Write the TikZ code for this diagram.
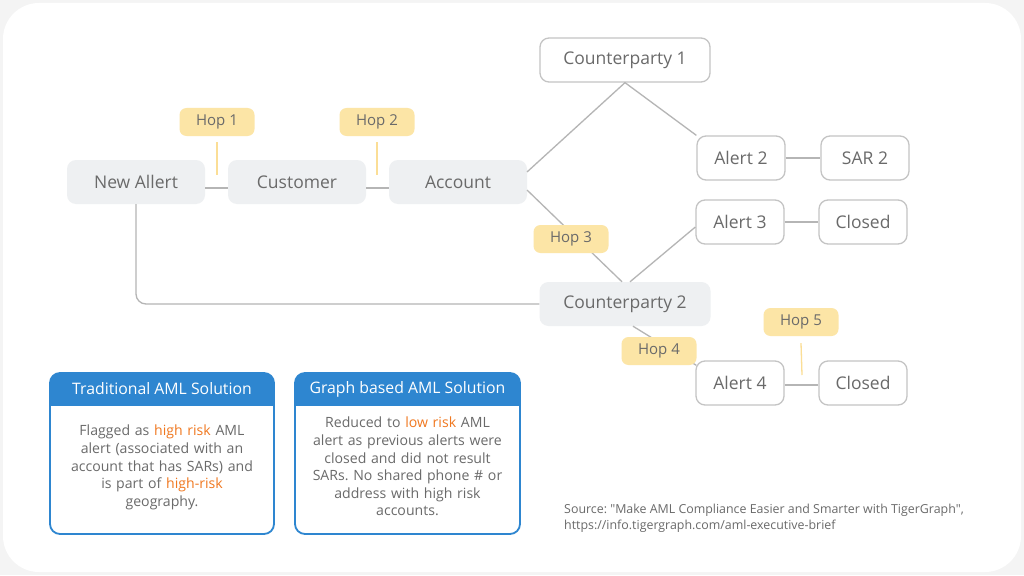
\documentclass[tikz,border=0pt]{standalone}
\usepackage{fontspec}
\setmainfont{Open Sans}
\newfontfamily\srcfont{Open Sans}[Ligatures=TeXOff]
\frenchspacing
\definecolor{bgout}{HTML}{F4F4F4}
\definecolor{nodegray}{HTML}{EEF0F2}
\definecolor{bordergray}{HTML}{C4C4C4}
\definecolor{txtgray}{HTML}{6A6A6A}
\definecolor{hopfill}{HTML}{FCE5A6}
\definecolor{hopline}{HTML}{FBDE96}
\definecolor{linegray}{HTML}{B5B5B5}
\definecolor{amlblue}{HTML}{2E86D0}
\definecolor{riskorange}{HTML}{F07820}
\tikzset{
  graynode/.style={rounded corners=9pt, fill=nodegray, text=txtgray, minimum width=138pt, minimum height=44pt, inner sep=0pt, font=\fontsize{17.5}{19}\selectfont},
  whitenode/.style={rounded corners=9pt, fill=white, draw=bordergray, line width=1.3pt, text=txtgray, minimum width=88pt, minimum height=44pt, inner sep=0pt, font=\fontsize{17.5}{19}\selectfont},
  hopnode/.style={rounded corners=7pt, fill=hopfill, text=txtgray, minimum width=75pt, minimum height=28pt, inner sep=0pt, font=\fontsize{15}{16}\selectfont},
  conn/.style={draw=linegray, line width=1.3pt},
  hopconn/.style={draw=hopline, line width=1.3pt},
  bodytxt/.style={text=txtgray, font=\fontsize{14.1}{17.6}\selectfont, align=center, text width=215pt, inner sep=0pt},
  headtxt/.style={text=white, font=\fontsize{15.8}{17}\selectfont, inner sep=0pt},
}
\newcommand{\hr}[1]{\textcolor{riskorange}{#1}}
\begin{document}
\begin{tikzpicture}[x=1pt,y=-1pt]
\useasboundingbox (0,0) rectangle (1024,575);
\fill[bgout] (0,0) rectangle (1024,575);
\fill[white, rounded corners=36pt] (3,3) rectangle (1021,572);

% main nodes
\node[graynode] (na) at (136,182) {New Allert};
\node[graynode] (cu) at (297,182) {Customer};
\node[graynode] (ac) at (458,182) {Account};
\node[whitenode, minimum width=170pt] (cp1) at (625,60) {Counterparty 1};
\node[graynode, minimum width=171pt] (cp2) at (625,304) {Counterparty 2};
\node[whitenode] (a2) at (741,158) {Alert 2};
\node[whitenode] (s2) at (865,158) {SAR 2};
\node[whitenode] (a3) at (740,222) {Alert 3};
\node[whitenode] (c1) at (863,222) {Closed};
\node[whitenode] (a4) at (740,383) {Alert 4};
\node[whitenode] (c2) at (863,383) {Closed};

% connectors
\coordinate (acU) at (527,172);
\coordinate (acD) at (527,190);
\draw[conn] ([yshift=-6pt]na.east) -- ([yshift=-6pt]cu.west);
\draw[conn] ([yshift=-6pt]cu.east) -- ([yshift=-6pt]ac.west);
\draw[conn] (acU) -- (cp1.south) -- (a2.north west);
\draw[conn] (acD) -- ([xshift=-3pt]cp2.north);
\draw[conn] ([xshift=5pt]cp2.north) -- ([yshift=-5pt]a3.west);
\draw[conn] ([xshift=8pt]cp2.south) -- ([yshift=-5pt,xshift=1pt]a4.north west);
\draw[conn] (a2.east) -- (s2.west);
\draw[conn] (a3.east) -- (c1.west);
\draw[conn] ([yshift=-2pt]a4.east) -- ([yshift=-2pt]c2.west);
\draw[conn, rounded corners=10pt] (na.south) -- (na.south |- cp2.west) -- (cp2.west);

% hop labels
\node[hopnode] (h1) at (217,122) {Hop 1};
\node[hopnode] (h2) at (377,122) {Hop 2};
\node[hopnode] (h3) at (571,239) {Hop 3};
\node[hopnode] (h4) at (659,351) {Hop 4};
\node[hopnode] (h5) at (801,322) {Hop 5};
\coordinate (h1e) at (217,175);
\coordinate (h2e) at (377,175);
\coordinate (h5e) at (802,375);
\draw[hopconn] ([yshift=-6pt]h1.south) -- (h1e);
\draw[hopconn] ([yshift=-6pt]h2.south) -- (h2e);
\draw[hopconn] ([yshift=-7pt]h5.south) -- (h5e);

% solution boxes
\begin{scope}
\clip[rounded corners=10pt] (50,373) rectangle (274,534);
\fill[amlblue] (50,373) rectangle (274,406);
\end{scope}
\draw[amlblue, line width=1.8pt, rounded corners=10pt] (50,373) rectangle (274,534);
\node[headtxt] (t1h) at (162,389) {Traditional AML Solution};
\node[bodytxt, anchor=north] (t1b) at (162,425) {Flagged as \hr{high risk} AML\\ alert (associated with an\\ account that has SARs) and\\ is part of \hr{high-risk}\\ geography.};

\begin{scope}
\clip[rounded corners=10pt] (295,373) rectangle (520,534);
\fill[amlblue] (295,373) rectangle (520,406);
\end{scope}
\draw[amlblue, line width=1.8pt, rounded corners=10pt] (295,373) rectangle (520,534);
\node[headtxt] (t2h) at (407.5,389) {Graph based AML Solution};
\node[bodytxt, anchor=north] (t2b) at (407.5,417) {Reduced to \hr{low risk} AML\\ alert as previous alerts were\\ closed and did not result\\ SARs. No shared phone \# or\\ address with high risk\\ accounts.};

% source
\node[text=txtgray, font=\srcfont\fontsize{12.4}{16}\selectfont, align=left, anchor=north west, inner sep=0pt] (src) at (564,504) {Source: "Make AML Compliance Easier and Smarter with TigerGraph",\\ https://info.tigergraph.com/aml-executive-brief};
\end{tikzpicture}
\end{document}
